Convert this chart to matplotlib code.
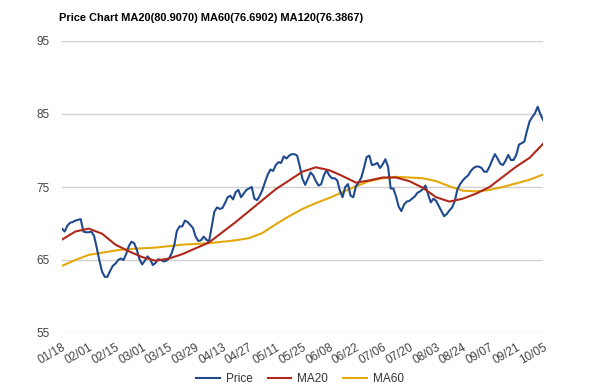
import matplotlib
matplotlib.use("Agg")
import matplotlib.pyplot as plt

plt.rcParams['font.family'] = ['Liberation Sans', 'DejaVu Sans']

title = "Price Chart MA20(80.9070) MA60(76.6902) MA120(76.3867)"
date_labels = ["01/18", "02/01", "02/15", "03/01", "03/15", "03/29", "04/13", "04/27",
               "05/11", "05/25", "06/08", "06/22", "07/06", "07/20", "08/03", "08/24",
               "09/07", "09/21", "10/05"]

price = [69.3, 68.9, 69.7, 70.1, 70.2, 70.4, 70.5, 70.6, 68.9, 68.8,
         68.8, 68.9, 68.3, 66.7, 64.9, 63.4, 62.7, 62.7, 63.5, 64.2,
         64.5, 65.0, 65.2, 65.0, 65.8, 66.9, 67.5, 67.3, 66.4, 65.1,
         64.4, 64.9, 65.5, 65.1, 64.3, 64.6, 65.1, 65.0, 64.8, 64.9,
         65.2, 65.9, 67.0, 69.0, 69.6, 69.6, 70.4, 70.2, 69.8, 69.4,
         68.2, 67.6, 67.7, 68.2, 67.8, 67.5, 69.5, 71.6, 72.2, 72.0,
         72.1, 72.8, 73.6, 73.8, 73.3, 74.3, 74.6, 73.6, 74.1, 74.6,
         74.8, 75.0, 73.4, 73.2, 73.8, 74.6, 75.7, 76.7, 77.4, 77.2,
         78.0, 78.4, 78.3, 79.2, 78.9, 79.3, 79.5, 79.5, 79.3, 77.8,
         76.1, 75.3, 76.1, 77.0, 76.6, 75.8, 75.2, 75.4, 76.6, 77.3,
         76.6, 76.2, 76.2, 75.9, 74.5, 73.6, 75.0, 75.4, 73.8, 73.6,
         75.1, 75.6, 76.3, 77.6, 79.1, 79.3, 78.0, 78.1, 78.3, 77.6,
         78.1, 78.8, 77.8, 74.8, 74.8, 73.7, 72.3, 71.7, 72.6, 73.0,
         73.1, 73.4, 73.7, 74.2, 74.4, 74.7, 75.2, 74.0, 72.9, 73.4,
         73.1, 72.4, 71.7, 71.0, 71.3, 71.8, 72.2, 73.1, 74.7, 75.4,
         75.9, 76.3, 76.6, 77.2, 77.6, 77.8, 77.8, 77.6, 77.1, 77.1,
         77.8, 78.7, 79.5, 78.9, 78.2, 78.0, 78.6, 79.4, 78.7, 78.7,
         79.4, 80.8, 81.0, 81.2, 82.7, 84.0, 84.6, 85.1, 86.0, 85.0,
         84.2]

# moving averages sampled every 5 trading days
ma_index = list(range(0, 181, 5))
ma20 = [67.8, 68.9, 69.3, 68.6, 67.1, 66.2, 65.4, 64.9, 65.2, 65.8,
        66.6, 67.4, 68.8, 70.2, 71.7, 73.2, 74.7, 75.9, 77.1, 77.7,
        77.3, 76.5, 75.6, 75.9, 76.3, 76.3, 75.8, 74.9, 73.6, 73.0,
        73.4, 74.1, 75.0, 76.4, 77.8, 79.0, 80.9]
ma60 = [64.2, 65.0, 65.7, 66.0, 66.3, 66.5, 66.6, 66.7, 66.9, 67.1,
        67.2, 67.3, 67.5, 67.7, 68.0, 68.7, 69.9, 71.0, 72.0, 72.8,
        73.5, 74.3, 75.1, 75.8, 76.2, 76.4, 76.3, 76.2, 75.8, 75.1,
        74.5, 74.4, 74.6, 75.0, 75.5, 76.0, 76.7]

fig = plt.figure(figsize=(6.0, 3.91), dpi=100)
ax = fig.add_axes([62/600, 1-333/391, (543-62)/600, (333-41)/391])

c_price = "#1f4a8e"
c_ma20 = "#b0281a"
c_ma60 = "#e3a90b"

ax.plot(range(len(price)), price, color=c_price, lw=1.5, label="Price", zorder=3)
ax.plot(ma_index, ma20, color=c_ma20, lw=1.5, label="MA20", zorder=4)
ax.plot(ma_index, ma60, color=c_ma60, lw=1.5, label="MA60", zorder=2)

ax.set_xlim(0, 180)
ax.set_ylim(55, 95)
ax.set_yticks([55, 65, 75, 85, 95])
ax.grid(axis='y', color="#d0d0d0", lw=1)
ax.set_axisbelow(True)
for s in ax.spines.values():
    s.set_visible(False)
ax.tick_params(axis='y', length=0, pad=9, labelsize=8.5, labelcolor="#444444")
ax.set_xticks(list(range(0, 181, 10)))
ax.set_xticklabels(date_labels, rotation=30, ha='right', rotation_mode='anchor',
                   fontsize=8.5, color="#444444")
ax.tick_params(axis='x', length=0, pad=6)

fig.text(59/600, 1-18/391, title, fontsize=7.9, fontweight='bold', va='center', ha='left')

fig.legend(loc='center', bbox_to_anchor=(0.5, 1-379/391), ncol=3, frameon=False,
           fontsize=8.5, handlelength=2.0, columnspacing=1.3, handletextpad=0.5,
           labelcolor="#333333")

fig.savefig("out.png", dpi=100, facecolor="white")
